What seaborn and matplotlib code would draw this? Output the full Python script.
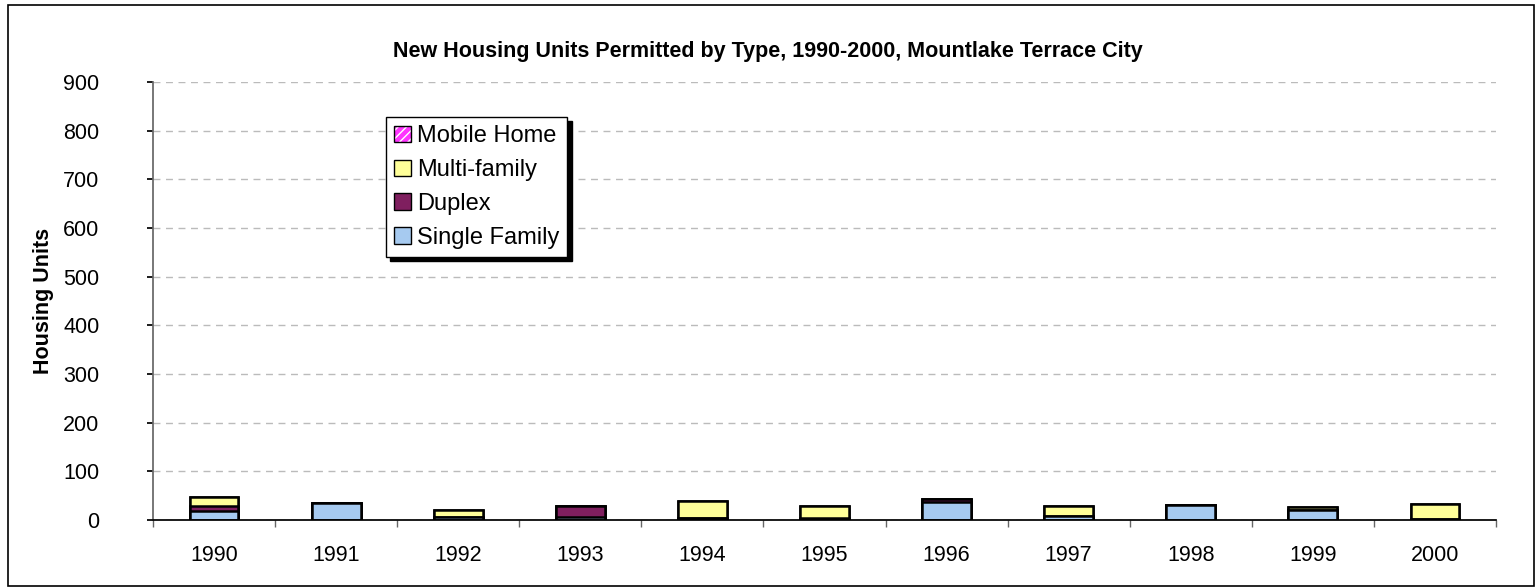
import pandas as pd
import matplotlib.pyplot as plt
import seaborn as sns
from matplotlib.patches import Patch, Rectangle

# data
years = ["1990", "1991", "1992", "1993", "1994", "1995", "1996", "1997", "1998", "1999", "2000"]
single_family = [19, 34, 6, 6, 4, 2, 38, 9, 30, 21, 2]
duplex = [10, 0, 0, 22, 0, 2, 6, 0, 0, 0, 1]
multi_family = [18, 0, 14, 0, 36, 24, 0, 20, 0, 6, 30]
mobile_home = [0, 0, 0, 0, 0, 0, 0, 0, 0, 0, 0]

series = ["Single Family", "Duplex", "Multi-family", "Mobile Home"]
colors = {"Single Family": "#A6CAF0", "Duplex": "#7F1F5F",
          "Multi-family": "#FFFF99", "Mobile Home": "#FF33FF"}

df = pd.DataFrame({"year": years, "Single Family": single_family, "Duplex": duplex,
                   "Multi-family": multi_family, "Mobile Home": mobile_home})

# cumulative tops for stacking
cum = df[series].cumsum(axis=1)

sns.set_theme(style="white")
plt.rcParams['font.family'] = ['Liberation Sans', 'DejaVu Sans']
plt.rcParams['text.color'] = 'black'
plt.rcParams['axes.labelcolor'] = 'black'
plt.rcParams['xtick.color'] = 'black'
plt.rcParams['ytick.color'] = 'black'

fig = plt.figure(figsize=(15.36, 5.88), dpi=100)
ax = fig.add_axes([153 / 1536, 1 - 520 / 588, (1496 - 153) / 1536, (520 - 82) / 588])

# draw tallest layer first, lower layers on top of it
for s in reversed(series):
    d = pd.DataFrame({"year": years, "val": cum[s]})
    kw = dict(hatch="////") if s == "Mobile Home" else {}
    sns.barplot(data=d, x="year", y="val", color=colors[s], width=0.4,
                edgecolor="black", linewidth=1.8, saturation=1, ax=ax, **kw)

ax.set_ylim(0, 900)
ax.set_yticks(range(0, 901, 100))
ax.set_xlim(-0.5, len(years) - 0.5)
ax.yaxis.grid(True, linestyle=(0, (5, 4)), color="#BBBBBB", linewidth=1)
ax.set_axisbelow(True)
for sp in ["top", "right"]:
    ax.spines[sp].set_visible(False)
ax.spines["left"].set_color("#666666")
ax.spines["bottom"].set_color("black")
ax.tick_params(axis="y", left=True, length=4.5, color="black", labelsize=15.5, pad=34)
ax.tick_params(axis="x", bottom=False, labelsize=15.5, pad=12)
# minor ticks between categories on the x axis
ax.set_xticks([i - 0.5 for i in range(len(years) + 1)], minor=True)
ax.tick_params(axis="x", which="minor", bottom=True, length=5, color="#666666")

ax.set_xlabel("")
ax.set_ylabel("Housing Units", fontsize=15.5, fontweight="bold", labelpad=7)
# title is centred on the whole figure, not on the plot area
ax.set_title("New Housing Units Permitted by Type, 1990-2000, Mountlake Terrace City",
             fontsize=15.5, fontweight="bold", pad=18, x=(768 - 153) / (1496 - 153))

handles = []
for s in reversed(series):
    if s == "Mobile Home":
        handles.append((Patch(facecolor=colors[s], edgecolor="white", hatch="////", linewidth=0),
                        Patch(facecolor="none", edgecolor="black", linewidth=1)))
    else:
        handles.append(Patch(facecolor=colors[s], edgecolor="black", linewidth=1))
leg = ax.legend(handles, list(reversed(series)), loc="upper left",
                bbox_to_anchor=((386 - 153) / (1496 - 153), 1 - (117 - 82) / 438),
                fontsize=17, frameon=True, fancybox=False,
                shadow={'ox': 3, 'oy': -3, 'facecolor': 'black', 'edgecolor': 'black', 'alpha': 1},
                handlelength=0.7, handleheight=0.7, handletextpad=0.25,
                borderpad=0.35, labelspacing=0.5, borderaxespad=0, framealpha=1)
leg.get_frame().set_edgecolor("black")
leg.get_frame().set_linewidth(1)

# outer chart border
fig.patches.append(Rectangle((8 / 1536, 2 / 588), 1526 / 1536, 581 / 588,
                             transform=fig.transFigure, fill=False,
                             edgecolor="black", linewidth=1.2))

fig.savefig("out.png", dpi=100)
